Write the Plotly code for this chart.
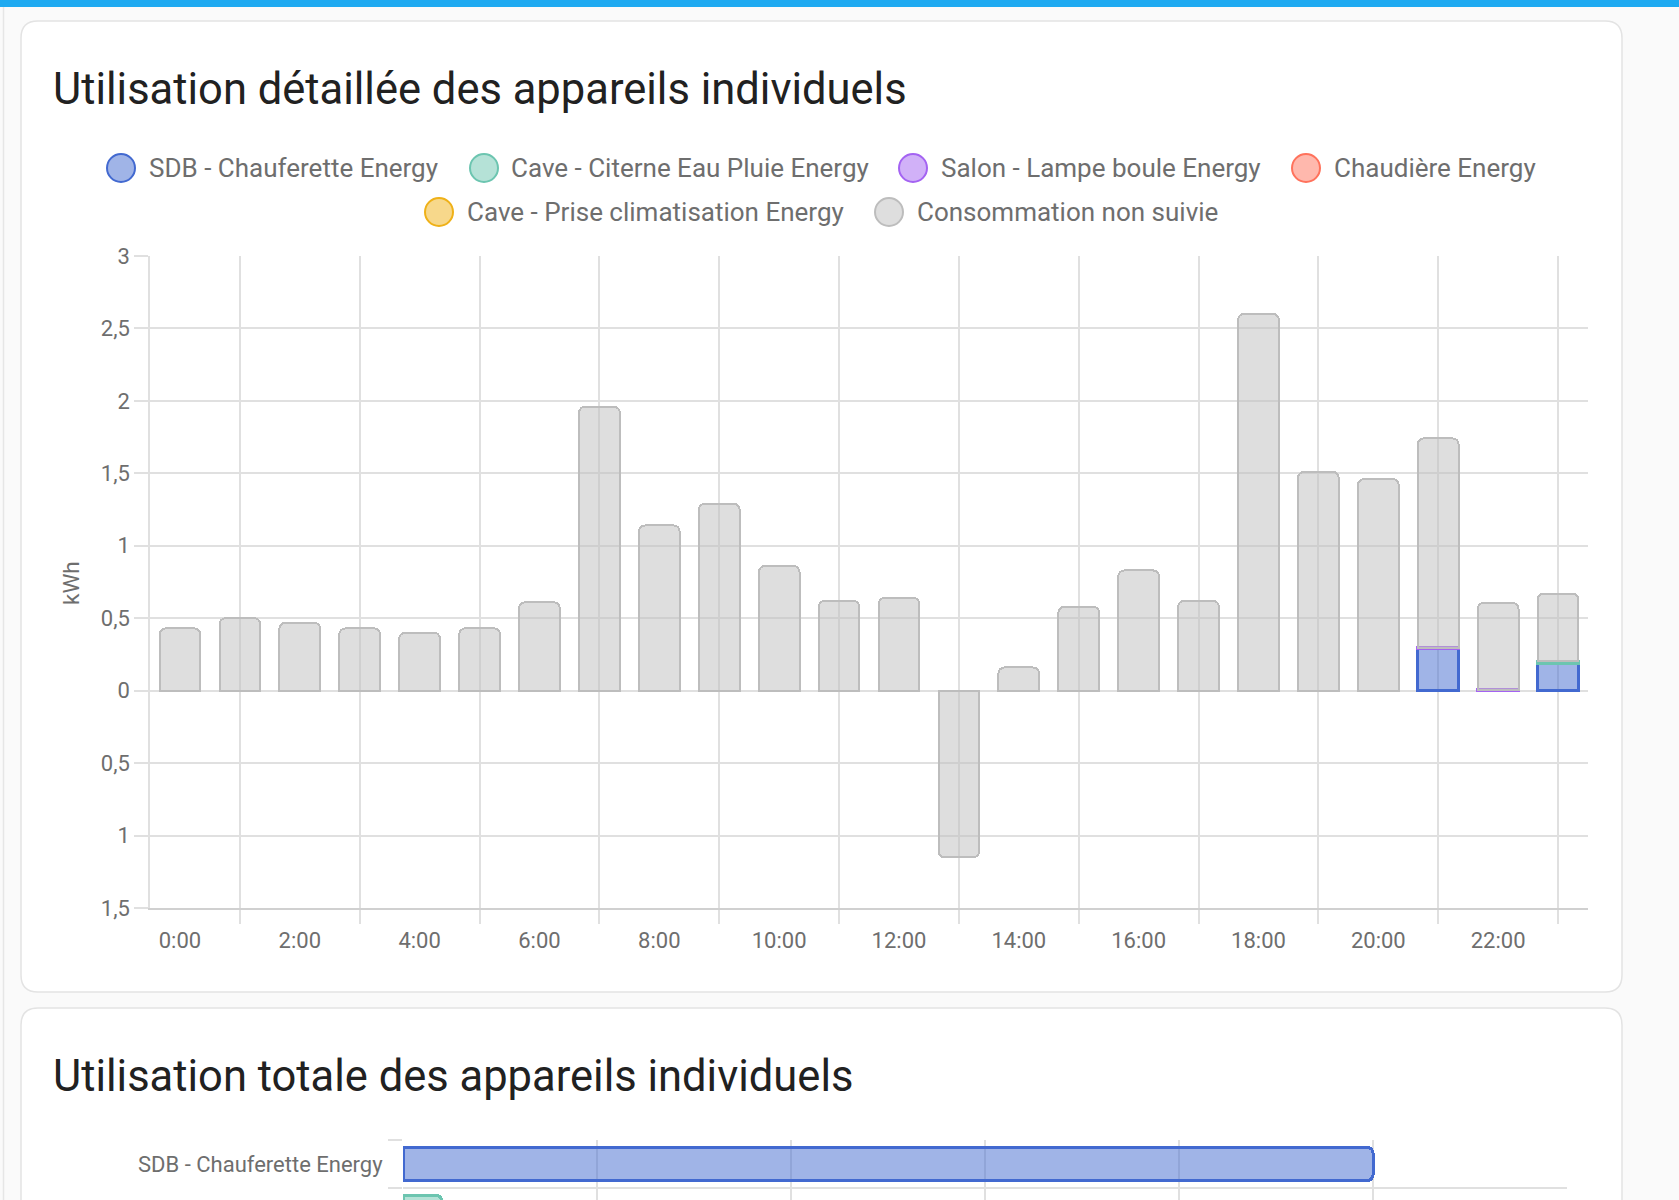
import plotly.graph_objects as go

W, H = 1679, 1200

# ---------------- data ----------------
hours = list(range(24))
hour_labels = [f"{h}:00" for h in range(0, 24, 2)]

series_names = [
    "SDB - Chauferette Energy",
    "Cave - Citerne Eau Pluie Energy",
    "Salon - Lampe boule Energy",
    "Chaudière Energy",
    "Cave - Prise climatisation Energy",
    "Consommation non suivie",
]
series_colors = ["#4269d0", "#6cc5b0", "#a463f2", "#ff725c", "#efb118", "#bdbdbd"]

sdb_chauferette = [0]*21 + [0.29, 0, 0.19]
cave_citerne = [0]*23 + [0.015]
salon_lampe = [0]*21 + [0.006, 0.006, 0]
chaudiere = [0]*24
cave_clim = [0]*24
non_suivie = [0.43, 0.50, 0.47, 0.43, 0.40, 0.43, 0.61, 1.96, 1.14, 1.29, 0.86, 0.62,
              0.64, -1.15, 0.16, 0.58, 0.83, 0.62, 2.60, 1.51, 1.46, 1.445, 0.60, 0.465]

y_tick_vals = [-1.5, -1, -0.5, 0, 0.5, 1, 1.5, 2, 2.5, 3]
y_tick_text = ["1,5", "1", "0,5", "0", "0,5", "1", "1,5", "2", "2,5", "3"]

total_names = ["SDB - Chauferette Energy", "Cave - Citerne Eau Pluie Energy"]
total_values = [0.50, 0.02]
total_colors = ["#4269d0", "#6cc5b0"]

# ---------------- helpers ----------------
def px(x):
    return x / W

def py(y):
    return 1 - y / H

def rgba(hex_color, a):
    h = hex_color.lstrip("#")
    r, g, b = int(h[0:2], 16), int(h[2:4], 16), int(h[4:6], 16)
    return f"rgba({r},{g},{b},{a})"

def rounded_rect(x0, y0, x1, y1, r):
    pts = [
        f"M {px(x0 + r)},{py(y0)}",
        f"L {px(x1 - r)},{py(y0)}",
        f"Q {px(x1)},{py(y0)} {px(x1)},{py(y0 + r)}",
        f"L {px(x1)},{py(y1 - r)}",
        f"Q {px(x1)},{py(y1)} {px(x1 - r)},{py(y1)}",
        f"L {px(x0 + r)},{py(y1)}",
        f"Q {px(x0)},{py(y1)} {px(x0)},{py(y1 - r)}",
        f"L {px(x0)},{py(y0 + r)}",
        f"Q {px(x0)},{py(y0)} {px(x0 + r)},{py(y0)} Z",
    ]
    return " ".join(pts)

FONT = "Roboto"
GRID = "#e0e0e0"
TXT = "#6e6e6e"

fig = go.Figure()

# ---------------- main stacked bars ----------------
all_series = [sdb_chauferette, cave_citerne, salon_lampe, chaudiere, cave_clim, non_suivie]
for name, color, vals in zip(series_names, series_colors, all_series):
    fig.add_trace(go.Bar(
        x=hours,
        y=[v if v != 0 else None for v in vals],
        name=name,
        width=0.68,
        marker=dict(color=rgba(color, 0.5),
                    line=dict(color=color, width=2 if name == series_names[-1] else 2.8)),
        showlegend=False,
        xaxis="x", yaxis="y",
    ))

# ---------------- total horizontal bars ----------------
for i, (name, val, color) in enumerate(zip(total_names, total_values, total_colors)):
    fig.add_trace(go.Bar(
        x=[val], y=[i], orientation="h", width=0.7, name=name,
        marker=dict(color=rgba(color, 0.5), line=dict(color=color, width=3)),
        showlegend=False, xaxis="x2", yaxis="y2",
    ))

shapes = []
shapes.append(dict(type="rect", xref="paper", yref="paper", x0=0, x1=1, y0=py(7), y1=1,
                   fillcolor="#1eaaf1", line=dict(width=0), layer="below"))
shapes.append(dict(type="line", xref="paper", yref="paper", x0=px(3.5), x1=px(3.5), y0=0, y1=py(7),
                   line=dict(color="#e6e6e6", width=1.5), layer="below"))
shapes.append(dict(type="path", xref="paper", yref="paper", path=rounded_rect(21, 21, 1622, 992, 17),
                   fillcolor="white", line=dict(color="#e3e3e3", width=1.5), layer="below"))
shapes.append(dict(type="path", xref="paper", yref="paper", path=rounded_rect(21, 1008, 1622, 1240, 17),
                   fillcolor="white", line=dict(color="#e3e3e3", width=1.5), layer="below"))

annotations = []
annotations.append(dict(text="Utilisation détaillée des appareils individuels", xref="paper", yref="paper",
                        x=px(51), y=py(89), xanchor="left", yanchor="middle", showarrow=False,
                        font=dict(family=FONT, size=43.5, color="#212121")))
annotations.append(dict(text="Utilisation totale des appareils individuels", xref="paper", yref="paper",
                        x=px(51), y=py(1076), xanchor="left", yanchor="middle", showarrow=False,
                        font=dict(family=FONT, size=43.5, color="#212121")))

legend_pos = [  # (circle center x, text start x, row y) in pixels
    (121, 147, 168),
    (484, 509, 168),
    (913, 939, 168),
    (1306, 1332, 168),
    (439, 465, 212),
    (889, 915, 212),
]
R = 14
for name, color, (cx, tx, ry) in zip(series_names, series_colors, legend_pos):
    shapes.append(dict(type="circle", xref="paper", yref="paper",
                       x0=px(cx - R), x1=px(cx + R), y0=py(ry + R), y1=py(ry - R),
                       fillcolor=rgba(color, 0.5), line=dict(color=color, width=2)))
    annotations.append(dict(text=name, xref="paper", yref="paper", x=px(tx), y=py(ry),
                            xanchor="left", yanchor="middle", showarrow=False,
                            font=dict(family=FONT, size=26, color=TXT)))

annotations.append(dict(text="kWh", xref="paper", yref="paper", x=px(71), y=py(583), textangle=-90,
                        xanchor="center", yanchor="middle", showarrow=False,
                        font=dict(family=FONT, size=22.5, color=TXT)))

fig.update_layout(
    width=W, height=H,
    margin=dict(l=0, r=0, t=0, b=0, pad=0, autoexpand=False),
    paper_bgcolor="#fafafa",
    plot_bgcolor="rgba(0,0,0,0)",
    barmode="stack",
    barcornerradius=6,
    showlegend=False,
    font=dict(family=FONT, color=TXT),
    shapes=shapes,
    annotations=annotations,
    xaxis=dict(
        domain=[px(150), px(1588)], anchor="y", automargin=False,
        range=[-0.5, 23.5],
        tickvals=list(range(0, 24, 2)), ticktext=hour_labels,
        ticks="outside", ticklen=12, tickcolor="rgba(0,0,0,0)",
        showgrid=False, zeroline=False,
        showline=True, linecolor="#d0d0d0", linewidth=1.5,
        tickfont=dict(family=FONT, size=22, color=TXT),
        ticklabelstandoff=0,
        minor=dict(tickvals=list(range(1, 24, 2)), showgrid=True, gridcolor=GRID, gridwidth=1.5,
                   ticks="outside", ticklen=14, tickcolor=GRID, tickwidth=1.5),
        fixedrange=True,
    ),
    yaxis=dict(
        domain=[py(908), py(256)], anchor="x", automargin=False,
        range=[-1.5, 3],
        tickvals=y_tick_vals, ticktext=y_tick_text,
        ticks="outside", ticklen=14, tickcolor=GRID, tickwidth=1.5,
        showgrid=True, gridcolor=GRID, gridwidth=1.5,
        zeroline=False,
        showline=True, linecolor=GRID, linewidth=1.5,
        tickfont=dict(family=FONT, size=22, color=TXT),
        ticklabelstandoff=0,
        fixedrange=True,
    ),
    xaxis2=dict(
        domain=[px(403), px(1567)], anchor="y2", automargin=False,
        range=[0, 0.6], dtick=0.1, tick0=0,
        showticklabels=False, showgrid=True, gridcolor=GRID, gridwidth=1.5,
        zeroline=False, showline=False,
        fixedrange=True,
    ),
    yaxis2=dict(
        domain=[0, py(1140)], anchor="x2", automargin=False,
        range=[0.75, -0.5],
        tickvals=[0], ticktext=[total_names[0]],
        ticks="outside", ticklen=14, tickcolor="rgba(0,0,0,0)",
        showgrid=False, zeroline=False, showline=False,
        tickfont=dict(family=FONT, size=22, color=TXT),
        ticklabelstandoff=1,
        minor=dict(tickvals=[-0.5, 0.5], showgrid=True, gridcolor=GRID, gridwidth=1.5,
                   ticks="outside", ticklen=14, tickcolor=GRID, tickwidth=1.5),
        fixedrange=True,
    ),
)

fig.write_html(
    "out.html",
    config={"displayModeBar": False},
    post_script="document.body.style.margin='0px';document.body.style.overflow='hidden';",
)
